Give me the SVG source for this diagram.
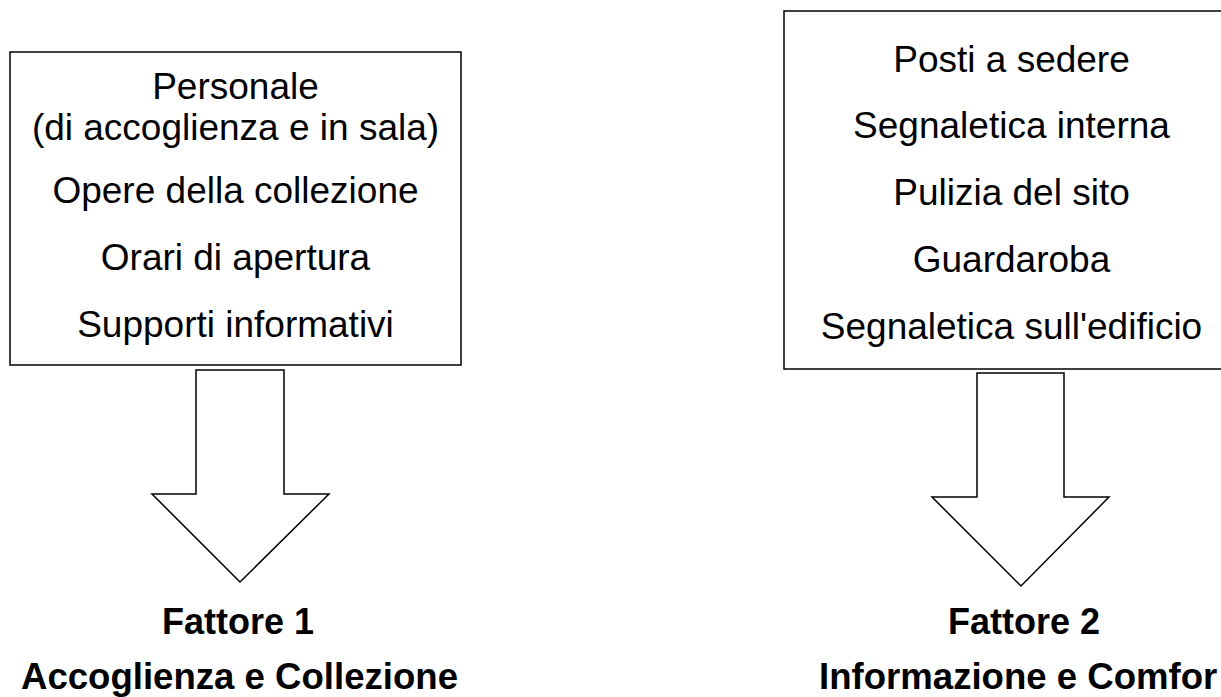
<svg xmlns="http://www.w3.org/2000/svg" width="1221" height="697" viewBox="0 0 1221 697">
<style>
.box{fill:#fff;stroke:#000;stroke-width:1.5}
.arrow{fill:#fff;stroke:#000;stroke-width:1.5;stroke-linejoin:miter}
.t{font-family:"Liberation Sans",Arial,sans-serif;font-size:37px;fill:#000;text-anchor:middle}
.b{font-family:"Liberation Sans",Arial,sans-serif;font-size:36px;font-weight:bold;fill:#000;text-anchor:middle}
.b2{font-family:"Liberation Sans",Arial,sans-serif;font-size:36.6px;font-weight:bold;fill:#000}
</style>
<rect width="1221" height="697" fill="#fff"/>
<g id="box1">
<rect class="box" x="10" y="52" width="451" height="313"/>
<text class="t" x="235.5" y="99">Personale</text>
<text class="t" x="235.5" y="140">(di accoglienza e in sala)</text>
<text class="t" x="235.5" y="203">Opere della collezione</text>
<text class="t" x="235.5" y="270">Orari di apertura</text>
<text class="t" x="235.5" y="337">Supporti informativi</text>
</g>
<g id="box2">
<rect class="box" x="784" y="11" width="455" height="358"/>
<text class="t" x="1011.5" y="72">Posti a sedere</text>
<text class="t" x="1011.5" y="138">Segnaletica interna</text>
<text class="t" x="1011.5" y="205">Pulizia del sito</text>
<text class="t" x="1011.5" y="272">Guardaroba</text>
<text class="t" x="1011.5" y="339">Segnaletica sull'edificio</text>
</g>
<g id="connectors">
<polygon class="arrow" points="196,370 284,370 284,494 329,494 240,582 152,494 196,494"/>
<polygon class="arrow" points="977,373 1064,373 1064,497 1109,497 1021,586 932,497 977,497"/>
</g>
<g id="factor1">
<text class="b" x="238" y="634">Fattore 1</text>
<text class="b2" x="239.5" y="689" text-anchor="middle">Accoglienza e Collezione</text>
</g>
<g id="factor2">
<text class="b" x="1024" y="634">Fattore 2</text>
<text class="b2" x="819" y="689" text-anchor="start">Informazione e Comfor</text>
</g>
</svg>
